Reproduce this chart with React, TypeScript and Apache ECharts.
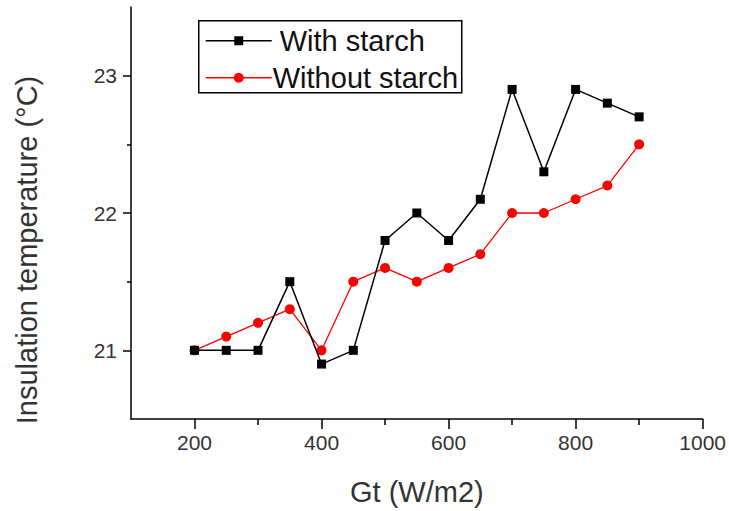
import React, { useEffect, useRef } from "react";
import * as echarts from "echarts";

// Irradiance levels (W/m2)
const gt = [200, 250, 300, 350, 400, 450, 500, 550, 600, 650, 700, 750, 800, 850, 900];
// Insulation temperature (°C)
const withStarch = [21.0, 21.0, 21.0, 21.5, 20.9, 21.0, 21.8, 22.0, 21.8, 22.1, 22.9, 22.3, 22.9, 22.8, 22.7];
const withoutStarch = [21.0, 21.1, 21.2, 21.3, 21.0, 21.5, 21.6, 21.5, 21.6, 21.7, 22.0, 22.0, 22.1, 22.2, 22.5];

const xMajorTicks = [200, 400, 600, 800, 1000];
const xMinorTicks = [300, 500, 700, 900];
const yMajorTicks = [21, 22, 23];
const yMinorTicks = [21.5, 22.5];

const seriesNames = ["With starch", "Without starch"];

const FONT = "'Liberation Sans', Arial, sans-serif";
const AXIS_COLOR = "#000";
const LABEL_COLOR = "#333";

export default function App() {
  const ref = useRef<HTMLDivElement>(null);

  useEffect(() => {
    if (!ref.current) return;
    const chart = echarts.init(ref.current, undefined, { renderer: "svg" });

    const grid = { left: 131, right: 22, top: 7, bottom: 84 };

    const xBase = {
      type: "value" as const,
      min: 100,
      max: 1000,
      splitLine: { show: false },
    };
    const yBase = {
      type: "value" as const,
      min: 20.5,
      max: 23.5,
      splitLine: { show: false },
    };

    chart.setOption({
      animation: false,
      backgroundColor: "#fff",
      grid,
      xAxis: [
        {
          ...xBase,
          position: "bottom",
          name: "Gt (W/m2)",
          nameLocation: "middle",
          nameGap: 58,
          nameTextStyle: { fontFamily: FONT, fontSize: 29, color: LABEL_COLOR },
          axisLine: { lineStyle: { color: AXIS_COLOR, width: 1.5 } },
          axisTick: {
            customValues: xMajorTicks,
            inside: false,
            length: 10,
            lineStyle: { color: AXIS_COLOR, width: 1.5 },
          },
          axisLabel: {
            customValues: xMajorTicks,
            formatter: (v: number) => String(v),
            margin: 13,
            fontFamily: FONT,
            fontSize: 21,
            color: LABEL_COLOR,
          },
        },
        {
          ...xBase,
          position: "bottom",
          axisLine: { show: false },
          axisTick: {
            customValues: xMinorTicks,
            length: 6,
            lineStyle: { color: AXIS_COLOR, width: 1.5 },
          },
          axisLabel: { show: false },
        },
      ],
      yAxis: [
        {
          ...yBase,
          position: "left",
          name: "Insulation temperature (°C)",
          nameLocation: "middle",
          nameGap: 90,
          nameTextStyle: {
            fontFamily: FONT,
            fontSize: 29,
            color: LABEL_COLOR,
            padding: [0, 74, 0, 0],
          },
          axisLine: { lineStyle: { color: AXIS_COLOR, width: 1.5 } },
          axisTick: {
            customValues: yMajorTicks,
            length: 8,
            lineStyle: { color: AXIS_COLOR, width: 1.5 },
          },
          axisLabel: {
            customValues: yMajorTicks,
            formatter: (v: number) => String(v),
            margin: 14,
            fontFamily: FONT,
            fontSize: 21,
            color: LABEL_COLOR,
          },
        },
        {
          ...yBase,
          position: "left",
          axisLine: { show: false },
          axisTick: {
            customValues: yMinorTicks,
            length: 4,
            lineStyle: { color: AXIS_COLOR, width: 1.5 },
          },
          axisLabel: { show: false },
        },
      ],
      series: [
        {
          name: seriesNames[0],
          type: "line",
          data: gt.map((x, i) => [x, withStarch[i]]),
          symbol: "rect",
          symbolSize: 9,
          itemStyle: { color: "#000" },
          lineStyle: { color: "#000", width: 1.5 },
          z: 3,
        },
        {
          name: seriesNames[1],
          type: "line",
          data: gt.map((x, i) => [x, withoutStarch[i]]),
          symbol: "circle",
          symbolSize: 10,
          itemStyle: { color: "#ff0000" },
          lineStyle: { color: "#ff0000", width: 1.3 },
          z: 2,
        },
      ],
      graphic: [
        {
          type: "group",
          left: 198,
          top: 20,
          children: [
            {
              type: "rect",
              shape: { x: 0, y: 0, width: 263, height: 72 },
              style: { fill: "#fff", stroke: "#000", lineWidth: 1.5 },
            },
            {
              type: "line",
              shape: { x1: 7, y1: 20, x2: 73, y2: 20 },
              style: { stroke: "#000", lineWidth: 1.5 },
            },
            {
              type: "rect",
              shape: { x: 35.5, y: 15.5, width: 9, height: 9 },
              style: { fill: "#000" },
            },
            {
              type: "text",
              x: 81,
              y: 20,
              style: {
                text: seriesNames[0],
                fontFamily: FONT,
                fontSize: 29,
                fill: "#111",
                verticalAlign: "middle",
              },
            },
            {
              type: "line",
              shape: { x1: 7, y1: 57, x2: 73, y2: 57 },
              style: { stroke: "#ff0000", lineWidth: 1.5 },
            },
            {
              type: "circle",
              shape: { cx: 40, cy: 57, r: 5 },
              style: { fill: "#ff0000" },
            },
            {
              type: "text",
              x: 74,
              y: 57,
              style: {
                text: seriesNames[1],
                fontFamily: FONT,
                fontSize: 29,
                fill: "#111",
                verticalAlign: "middle",
              },
            },
          ],
        },
      ],
    });

    return () => chart.dispose();
  }, []);

  return (
    <div
      ref={ref}
      style={{ position: "absolute", left: 0, top: 0, width: 729, height: 511 }}
    />
  );
}
